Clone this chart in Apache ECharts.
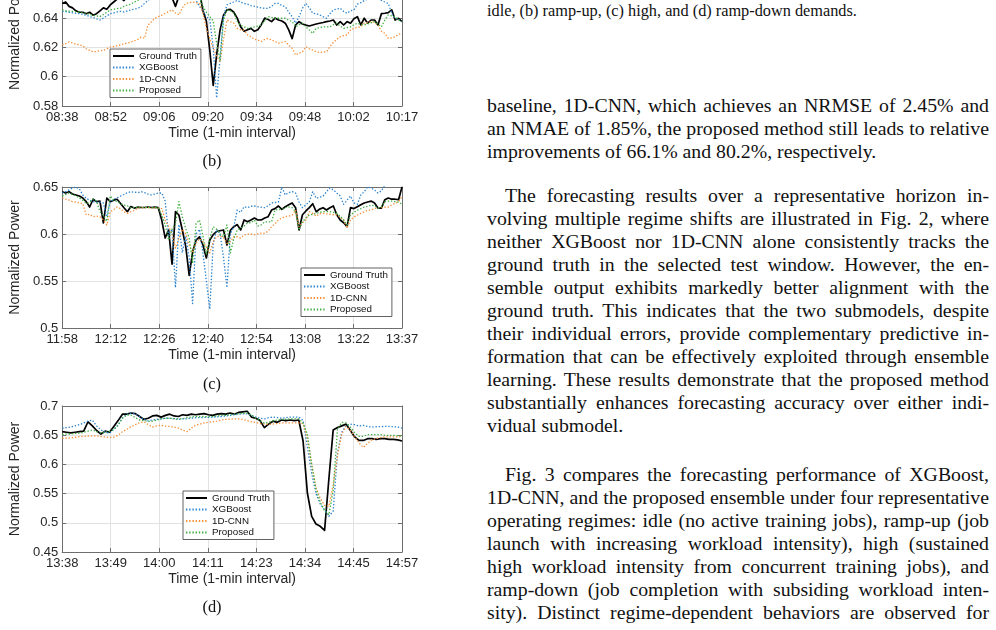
<!DOCTYPE html>
<html>
<head>
<meta charset="utf-8">
<title>Forecast regimes</title>
<script src="https://cdn.jsdelivr.net/npm/echarts@6/dist/echarts.min.js"></script>
<style>
    html, body { margin: 0; padding: 0; background: #fff; }
    body { width: 996px; height: 630px; position: relative; overflow: hidden; }
    /* chart starts above the page so the top panel is cut off like the scan */
    #chart { position: absolute; left: 0; top: -60px; width: 480px; height: 690px; }
    .sub {
        position: absolute; width: 40px; margin-left: -20px; text-align: center;
        font-family: "Liberation Serif", "Times New Roman", serif; font-size: 16.4px;
        line-height: 18px; color: #111;
    }
    .cap {
        position: absolute; left: 487px; top: 1px; white-space: nowrap;
        font-family: "Liberation Serif", "Times New Roman", serif; font-size: 16.3px; color: #111;
    }
    .para {
        position: absolute; left: 487px; width: 502px;
        font-family: "Liberation Serif", "Times New Roman", serif; font-size: 19.8px;
        line-height: 23.1px; color: #111;
    }
    .para div { text-align: justify; text-align-last: justify; word-spacing: -2px; }
    .para div.ind { text-indent: 18px; }
    .para div.last { text-align: left; text-align-last: left; word-spacing: 0; }
</style>
</head>
<body>
<div id="chart"></div>

<div class="sub" style="left:212px; top:152px;">(b)</div>
<div class="sub" style="left:212px; top:375px;">(c)</div>
<div class="sub" style="left:212px; top:598px;">(d)</div>

<div class="cap">idle, (b) ramp-up, (c) high, and (d) ramp-down demands.</div>

<div class="para" style="top:93.5px;">
    <div>baseline, 1D-CNN, which achieves an NRMSE of 2.45% and</div>
    <div>an NMAE of 1.85%, the proposed method still leads to relative</div>
    <div class="last">improvements of 66.1% and 80.2%, respectively.</div>
</div>

<div class="para" style="top:183.5px;">
    <div class="ind">The forecasting results over a representative horizon in-</div>
    <div>volving multiple regime shifts are illustrated in Fig. 2, where</div>
    <div>neither XGBoost nor 1D-CNN alone consistently tracks the</div>
    <div>ground truth in the selected test window. However, the en-</div>
    <div>semble output exhibits markedly better alignment with the</div>
    <div>ground truth. This indicates that the two submodels, despite</div>
    <div>their individual errors, provide complementary predictive in-</div>
    <div>formation that can be effectively exploited through ensemble</div>
    <div>learning. These results demonstrate that the proposed method</div>
    <div>substantially enhances forecasting accuracy over either indi-</div>
    <div class="last">vidual submodel.</div>
</div>

<div class="para" style="top:462.5px;">
    <div class="ind">Fig. 3 compares the forecasting performance of XGBoost,</div>
    <div>1D-CNN, and the proposed ensemble under four representative</div>
    <div>operating regimes: idle (no active training jobs), ramp-up (job</div>
    <div>launch with increasing workload intensity), high (sustained</div>
    <div>high workload intensity from concurrent training jobs), and</div>
    <div>ramp-down (job completion with subsiding workload inten-</div>
    <div>sity). Distinct regime-dependent behaviors are observed for</div>
</div>

<script>
// tick labels (MATLAB datetime ticks, 8 evenly spaced per panel)
const ticksB = ['08:38', '08:52', '09:06', '09:20', '09:34', '09:48', '10:02', '10:17'];
const ticksC = ['11:58', '12:12', '12:26', '12:40', '12:54', '13:08', '13:22', '13:37'];
const ticksD = ['13:38', '13:49', '14:00', '14:11', '14:23', '14:34', '14:45', '14:57'];

const seriesNames = ['Ground Truth', 'XGBoost', '1D-CNN', 'Proposed'];

// (b) ramp-up, 100 one-minute samples
const truthB = [
    0.650, 0.651, 0.648, 0.647, 0.645, 0.644, 0.644, 0.643, 0.644, 0.642,
    0.643, 0.645, 0.647, 0.646, 0.649, 0.651, 0.653, 0.654, 0.652, 0.655,
    0.657, 0.656, 0.658, 0.660, 0.658, 0.661, 0.659, 0.662, 0.660, 0.658,
    0.656, 0.657, 0.654, 0.648, 0.655, 0.658, 0.660, 0.662, 0.660, 0.663,
    0.658, 0.645, 0.638, 0.618, 0.594, 0.615, 0.632, 0.642, 0.6456, 0.646,
    0.644, 0.640, 0.634, 0.631, 0.632, 0.633, 0.631, 0.632, 0.6355, 0.640,
    0.639, 0.6376, 0.640, 0.6387, 0.638, 0.6365, 0.632, 0.626, 0.6353, 0.6376,
    0.636, 0.6352, 0.6346, 0.6353, 0.636, 0.6365, 0.637, 0.6376, 0.638, 0.6387,
    0.6353, 0.6376, 0.6353, 0.6376, 0.6365, 0.6395, 0.641, 0.6353, 0.6399, 0.6365,
    0.6387, 0.6387, 0.6353, 0.643, 0.6433, 0.6437, 0.6456, 0.6387, 0.6399, 0.6376
];
const xgbB = [
    0.6446, 0.6445, 0.644, 0.6436, 0.6433, 0.643, 0.6425, 0.642, 0.641, 0.6405,
    0.6395, 0.6387, 0.640, 0.6415, 0.643, 0.6435, 0.6442, 0.6446, 0.6442, 0.645,
    0.6455, 0.6462, 0.6467, 0.6478, 0.6501, 0.652, 0.654, 0.656, 0.655, 0.657,
    0.659, 0.658, 0.660, 0.658, 0.660, 0.662, 0.660, 0.658, 0.655, 0.652,
    0.648, 0.645, 0.641, 0.639, 0.620, 0.5855, 0.613, 0.641, 0.649, 0.650,
    0.651, 0.652, 0.651, 0.650, 0.6495, 0.6485, 0.648, 0.6475, 0.647, 0.6467,
    0.6467, 0.648, 0.650, 0.6501, 0.6485, 0.6478, 0.644, 0.641, 0.6365, 0.641,
    0.6467, 0.6501, 0.647, 0.6433, 0.643, 0.6422, 0.641, 0.6399, 0.643, 0.6456,
    0.6462, 0.6467, 0.6445, 0.6433, 0.645, 0.6456, 0.6495, 0.6505, 0.652, 0.653,
    0.653, 0.654, 0.653, 0.652, 0.651, 0.650, 0.6433, 0.6399, 0.639, 0.6376
];
const cnnB = [
    0.6217, 0.6225, 0.6237, 0.623, 0.6222, 0.6217, 0.621, 0.619, 0.618, 0.617,
    0.6172, 0.6178, 0.618, 0.619, 0.6203, 0.6205, 0.6212, 0.6217, 0.6225, 0.623,
    0.6237, 0.6245, 0.6255, 0.627, 0.6262, 0.6353, 0.6375, 0.6399, 0.641, 0.642,
    0.6433, 0.6445, 0.6456, 0.6435, 0.6422, 0.647, 0.650, 0.6505, 0.651, 0.6505,
    0.650, 0.6433, 0.633, 0.626, 0.6196, 0.614, 0.610, 0.6254, 0.6387, 0.6375,
    0.6365, 0.633, 0.632, 0.6318, 0.6285, 0.6273, 0.6255, 0.625, 0.624, 0.6255,
    0.6262, 0.625, 0.624, 0.6228, 0.6235, 0.624, 0.6215, 0.6194, 0.6148, 0.616,
    0.617, 0.6205, 0.619, 0.6182, 0.617, 0.6165, 0.6168, 0.617, 0.6205, 0.6235,
    0.6255, 0.6273, 0.628, 0.6285, 0.632, 0.633, 0.6338, 0.634, 0.6365, 0.637,
    0.6376, 0.637, 0.6353, 0.631, 0.6296, 0.6262, 0.6265, 0.6273, 0.629, 0.6296
];
const propB = [
    0.6456, 0.645, 0.6448, 0.6446, 0.6444, 0.644, 0.6436, 0.6433, 0.6425, 0.642,
    0.6415, 0.641, 0.6425, 0.644, 0.6456, 0.646, 0.6465, 0.6467, 0.648, 0.649,
    0.6495, 0.651, 0.652, 0.654, 0.655, 0.656, 0.657, 0.658, 0.656, 0.659,
    0.660, 0.658, 0.657, 0.655, 0.657, 0.659, 0.660, 0.661, 0.659, 0.657,
    0.654, 0.648, 0.644, 0.641, 0.638, 0.6228, 0.6114, 0.6387, 0.6456, 0.645,
    0.6433, 0.6376, 0.635, 0.634, 0.633, 0.6335, 0.634, 0.6345, 0.6353, 0.638,
    0.641, 0.6405, 0.6399, 0.6399, 0.6399, 0.6399, 0.6385, 0.6376, 0.634, 0.6355,
    0.6365, 0.634, 0.6318, 0.6296, 0.633, 0.6335, 0.634, 0.634, 0.634, 0.6355,
    0.6365, 0.6345, 0.633, 0.6335, 0.634, 0.6355, 0.6365, 0.6358, 0.6353, 0.636,
    0.6368, 0.6376, 0.6358, 0.634, 0.6387, 0.6422, 0.6415, 0.641, 0.6387, 0.6376
];

// (c) high, 100 samples
const truthC = [
    0.645, 0.6436, 0.645, 0.6425, 0.6415, 0.6404, 0.6383, 0.6344, 0.6287, 0.637,
    0.6344, 0.635, 0.6117, 0.6383, 0.6344, 0.636, 0.637, 0.6325, 0.628, 0.6237,
    0.6292, 0.6276, 0.6285, 0.6282, 0.6282, 0.6287, 0.6282, 0.6285, 0.628, 0.6149,
    0.5957, 0.6043, 0.568, 0.6237, 0.6202, 0.6043, 0.5865, 0.556, 0.581, 0.5936,
    0.597, 0.5883, 0.5745, 0.5936, 0.5993, 0.6027, 0.6035, 0.6043, 0.5883, 0.604,
    0.6078, 0.610, 0.6043, 0.6149, 0.613, 0.615, 0.617, 0.6149, 0.615, 0.617,
    0.6184, 0.6255, 0.627, 0.6298, 0.6262, 0.629, 0.631, 0.633, 0.628, 0.6043,
    0.6205, 0.6245, 0.628, 0.6322, 0.6237, 0.6265, 0.628, 0.6255, 0.628, 0.6298,
    0.6205, 0.6149, 0.612, 0.6078, 0.628, 0.627, 0.629, 0.631, 0.633, 0.634,
    0.635, 0.633, 0.6276, 0.6276, 0.6365, 0.6383, 0.637, 0.637, 0.6365, 0.650
];
const xgbC = [
    0.6436, 0.645, 0.647, 0.649, 0.650, 0.648, 0.6415, 0.638, 0.636, 0.6344,
    0.634, 0.634, 0.633, 0.6184, 0.6344, 0.637, 0.6385, 0.6404, 0.642, 0.644,
    0.645, 0.6445, 0.644, 0.645, 0.644, 0.6425, 0.6415, 0.6425, 0.6436, 0.6436,
    0.635, 0.598, 0.605, 0.543, 0.610, 0.580, 0.598, 0.575, 0.526, 0.600,
    0.605, 0.580, 0.550, 0.520, 0.590, 0.605, 0.600, 0.575, 0.543, 0.600,
    0.608, 0.6255, 0.623, 0.629, 0.628, 0.6295, 0.6298, 0.629, 0.6285, 0.628,
    0.630, 0.633, 0.6335, 0.634, 0.650, 0.6415, 0.644, 0.645, 0.6436, 0.634,
    0.628, 0.631, 0.6344, 0.645, 0.638, 0.639, 0.6404, 0.645, 0.649, 0.647,
    0.6436, 0.6404, 0.6316, 0.636, 0.6404, 0.633, 0.6316, 0.6415, 0.645, 0.650,
    0.649, 0.6468, 0.6436, 0.646, 0.652, 0.6539, 0.654, 0.654, 0.653, 0.652
];
const cnnC = [
    0.6383, 0.637, 0.636, 0.6344, 0.634, 0.633, 0.6325, 0.6202, 0.621, 0.6184,
    0.619, 0.6184, 0.615, 0.6096, 0.6237, 0.626, 0.6287, 0.627, 0.6237, 0.622,
    0.6237, 0.625, 0.6276, 0.628, 0.628, 0.628, 0.6276, 0.628, 0.6276, 0.627,
    0.6149, 0.6078, 0.600, 0.585, 0.595, 0.605, 0.600, 0.588, 0.580, 0.590,
    0.595, 0.592, 0.586, 0.580, 0.592, 0.597, 0.598, 0.596, 0.590, 0.592,
    0.5971, 0.5971, 0.5957, 0.599, 0.5995, 0.600, 0.599, 0.600, 0.601, 0.6007,
    0.603, 0.6078, 0.611, 0.6149, 0.617, 0.6184, 0.619, 0.6202, 0.6255, 0.6078,
    0.612, 0.6149, 0.6237, 0.622, 0.619, 0.6215, 0.622, 0.6215, 0.621, 0.6205,
    0.6202, 0.618, 0.6149, 0.6064, 0.6149, 0.618, 0.6202, 0.622, 0.6237, 0.625,
    0.6255, 0.627, 0.628, 0.628, 0.6285, 0.6287, 0.631, 0.6325, 0.6344, 0.640
];
const propC = [
    0.6404, 0.642, 0.6436, 0.642, 0.6404, 0.6383, 0.636, 0.6325, 0.6335, 0.637,
    0.635, 0.6237, 0.620, 0.6134, 0.6404, 0.636, 0.6344, 0.6325, 0.6308, 0.630,
    0.6276, 0.628, 0.6285, 0.6285, 0.6282, 0.6282, 0.628, 0.6282, 0.6282, 0.6202,
    0.610, 0.5936, 0.605, 0.611, 0.6344, 0.6184, 0.6057, 0.5957, 0.569, 0.611,
    0.6149, 0.598, 0.578, 0.595, 0.6078, 0.605, 0.600, 0.597, 0.6096, 0.580,
    0.595, 0.6043, 0.606, 0.6085, 0.6117, 0.612, 0.6149, 0.6085, 0.6096, 0.613,
    0.6128, 0.613, 0.6255, 0.626, 0.6262, 0.628, 0.6287, 0.628, 0.6237, 0.6043,
    0.613, 0.617, 0.6202, 0.621, 0.622, 0.623, 0.6237, 0.6237, 0.6237, 0.623,
    0.622, 0.619, 0.6149, 0.6096, 0.6202, 0.623, 0.6255, 0.627, 0.6287, 0.6295,
    0.6308, 0.630, 0.6276, 0.629, 0.6344, 0.635, 0.635, 0.6344, 0.634, 0.6316
];

// (d) ramp-down, 80 samples
const truthD = [
    0.656, 0.655, 0.654, 0.655, 0.656, 0.657, 0.673, 0.666, 0.658, 0.652,
    0.657, 0.655, 0.665, 0.675, 0.686, 0.686, 0.688, 0.687, 0.682, 0.677,
    0.679, 0.683, 0.684, 0.681, 0.684, 0.686, 0.683, 0.682, 0.685, 0.684,
    0.686, 0.685, 0.686, 0.687, 0.685, 0.684, 0.686, 0.687, 0.686, 0.688,
    0.686, 0.689, 0.690, 0.691, 0.681, 0.679, 0.675, 0.663, 0.669, 0.674,
    0.672, 0.676, 0.675, 0.676, 0.675, 0.676, 0.640, 0.551, 0.511, 0.498,
    0.494, 0.487, 0.575, 0.659, 0.663, 0.666, 0.669, 0.658, 0.647, 0.641,
    0.641, 0.644, 0.644, 0.643, 0.644, 0.644, 0.643, 0.643, 0.642, 0.640
];
const xgbD = [
    0.662, 0.663, 0.664, 0.666, 0.668, 0.671, 0.674, 0.676, 0.666, 0.659,
    0.655, 0.6533, 0.660, 0.6674, 0.680, 0.686, 0.688, 0.686, 0.682, 0.677,
    0.6745, 0.676, 0.677, 0.678, 0.679, 0.679, 0.678, 0.677, 0.678, 0.678,
    0.679, 0.680, 0.680, 0.6805, 0.6805, 0.681, 0.6815, 0.682, 0.683, 0.684,
    0.685, 0.686, 0.6865, 0.6865, 0.684, 0.681, 0.679, 0.678, 0.680, 0.681,
    0.680, 0.679, 0.680, 0.681, 0.681, 0.681, 0.6755, 0.630, 0.585, 0.550,
    0.532, 0.522, 0.511, 0.520, 0.620, 0.655, 0.667, 0.669, 0.668, 0.6655,
    0.667, 0.665, 0.6638, 0.6645, 0.6647, 0.665, 0.665, 0.6645, 0.664, 0.662
];
const cnnD = [
    0.6447, 0.645, 0.6455, 0.6465, 0.6475, 0.648, 0.6485, 0.649, 0.649, 0.6475,
    0.647, 0.6462, 0.6465, 0.650, 0.656, 0.660, 0.6645, 0.668, 0.6715, 0.673,
    0.668, 0.664, 0.666, 0.667, 0.6655, 0.665, 0.664, 0.662, 0.659, 0.656,
    0.662, 0.667, 0.669, 0.671, 0.672, 0.673, 0.674, 0.676, 0.677, 0.6775,
    0.678, 0.678, 0.677, 0.675, 0.673, 0.672, 0.670, 0.669, 0.6685, 0.669,
    0.670, 0.671, 0.671, 0.671, 0.671, 0.671, 0.670, 0.645, 0.600, 0.560,
    0.542, 0.530, 0.528, 0.565, 0.615, 0.652, 0.665, 0.658, 0.647, 0.637,
    0.629, 0.636, 0.642, 0.6445, 0.646, 0.647, 0.647, 0.647, 0.647, 0.647
];
const propD = [
    0.651, 0.652, 0.652, 0.653, 0.6534, 0.655, 0.657, 0.659, 0.656, 0.6534,
    0.655, 0.6563, 0.660, 0.667, 0.679, 0.6845, 0.6845, 0.680, 0.676, 0.675,
    0.6735, 0.674, 0.676, 0.678, 0.679, 0.679, 0.6785, 0.678, 0.678, 0.680,
    0.681, 0.682, 0.682, 0.682, 0.6815, 0.682, 0.683, 0.684, 0.684, 0.685,
    0.686, 0.687, 0.6875, 0.688, 0.685, 0.679, 0.675, 0.6705, 0.672, 0.6745,
    0.676, 0.677, 0.677, 0.678, 0.678, 0.678, 0.6705, 0.652, 0.600, 0.558,
    0.535, 0.521, 0.5135, 0.555, 0.660, 0.672, 0.671, 0.664, 0.654, 0.648,
    0.648, 0.651, 0.651, 0.651, 0.651, 0.650, 0.6497, 0.6497, 0.649, 0.649
];

const FONT = '"Liberation Sans", Arial, sans-serif';
const AXIS_COLOR = '#6e6e6e';
const GRID_COLOR = '#e2e2e2';
const LABEL_COLOR = '#262626';

const lineColors = ['#000000', '#2a84cf', '#f5913a', '#3fae3f'];
const lineStyles = [
    { width: 1.7, type: 'solid' },
    { width: 1.3, type: [1.4, 1.8] },
    { width: 1.3, type: [1.4, 1.8] },
    { width: 1.3, type: [1.4, 1.8] },
];

// page y offset of the chart div is -60, so grid tops below are page y + 60
const panels = [
    { ticks: ticksB, values: [truthB, xgbB, cnnB, propB], yMin: 0.58, yMax: 0.68, yStep: 0.02,
      grid: { top: 19.5, height: 146.5 }, legendPos: { left: 110, top: 109 } },
    { ticks: ticksC, values: [truthC, xgbC, cnnC, propC], yMin: 0.5, yMax: 0.65, yStep: 0.05,
      grid: { top: 247, height: 141 }, legendPos: { left: 301, top: 328 } },
    { ticks: ticksD, values: [truthD, xgbD, cnnD, propD], yMin: 0.45, yMax: 0.7, yStep: 0.05,
      grid: { top: 466, height: 146 }, legendPos: { left: 183, top: 551 } },
];

const grids = [], xAxes = [], yAxes = [], series = [], legends = [];

panels.forEach((p, k) => {
    const n = p.values[0].length;
    const step = (n - 1) / (p.ticks.length - 1);
    const tickPos = p.ticks.map((_, j) => j * step);

    grids.push({ left: 50, width: 352, top: p.grid.top, height: p.grid.height });

    xAxes.push({
        type: 'value', gridIndex: k, position: 'bottom', min: 0, max: n - 1,
        axisLine: { show: true, onZero: false, lineStyle: { color: AXIS_COLOR, width: 1 } },
        axisTick: { show: true, inside: true, length: 4, customValues: tickPos,
                    lineStyle: { color: AXIS_COLOR } },
        axisLabel: { customValues: tickPos, margin: 5, color: LABEL_COLOR, fontSize: 13,
                     fontFamily: FONT, formatter: v => p.ticks[Math.round(v / step)] },
        splitLine: { show: true, lineStyle: { color: GRID_COLOR, width: 1 } },
        name: 'Time (1-min interval)', nameLocation: 'middle', nameGap: 20,
        nameTextStyle: { color: LABEL_COLOR, fontSize: 14, fontFamily: FONT },
    });
    xAxes.push({
        type: 'value', gridIndex: k, position: 'top', min: 0, max: n - 1,
        axisLine: { show: true, onZero: false, lineStyle: { color: AXIS_COLOR, width: 1 } },
        axisTick: { show: true, inside: true, length: 4, customValues: tickPos,
                    lineStyle: { color: AXIS_COLOR } },
        axisLabel: { show: false },
        splitLine: { show: false },
    });

    yAxes.push({
        type: 'value', gridIndex: k, position: 'left', min: p.yMin, max: p.yMax, interval: p.yStep,
        axisLine: { show: true, onZero: false, lineStyle: { color: AXIS_COLOR, width: 1 } },
        axisTick: { show: true, inside: true, length: 4, lineStyle: { color: AXIS_COLOR } },
        axisLabel: { margin: 4, color: LABEL_COLOR, fontSize: 13, fontFamily: FONT },
        splitLine: { show: true, lineStyle: { color: GRID_COLOR, width: 1 } },
        name: 'Normalized Power', nameLocation: 'middle', nameGap: 30,
        nameTextStyle: { color: LABEL_COLOR, fontSize: 14, fontFamily: FONT },
    });
    yAxes.push({
        type: 'value', gridIndex: k, position: 'right', min: p.yMin, max: p.yMax, interval: p.yStep,
        axisLine: { show: true, onZero: false, lineStyle: { color: AXIS_COLOR, width: 1 } },
        axisTick: { show: true, inside: true, length: 4, lineStyle: { color: AXIS_COLOR } },
        axisLabel: { show: false },
        splitLine: { show: false },
    });

    p.values.forEach((arr, s) => {
        series.push({
            type: 'line',
            name: seriesNames[s],
            xAxisIndex: 2 * k,
            yAxisIndex: 2 * k,
            data: arr.map((v, i) => [i, v]),
            symbol: 'none',
            showSymbol: false,
            silent: true,
            clip: true,
            color: lineColors[s],
            itemStyle: { color: lineColors[s] },
            lineStyle: Object.assign({ color: lineColors[s], cap: 'butt', join: 'round' }, lineStyles[s]),
            z: 2 + s,
        });
    });

    legends.push({
        data: seriesNames,
        left: p.legendPos.left,
        top: p.legendPos.top,
        orient: 'vertical',
        selectedMode: false,
        itemWidth: 21,
        itemHeight: 9,
        itemGap: 1.5,
        padding: [2, 4, 2, 2],
        backgroundColor: '#ffffff',
        borderColor: '#3a3a3a',
        borderWidth: 0.8,
        borderRadius: 0,
        itemStyle: { opacity: 0 },
        textStyle: { color: '#111', fontSize: 9.8, fontFamily: FONT, lineHeight: 10 },
        z: 10,
    });
});

const chart = echarts.init(document.getElementById('chart'), null, { renderer: 'canvas' });
chart.setOption({
    animation: false,
    backgroundColor: '#ffffff',
    grid: grids,
    xAxis: xAxes,
    yAxis: yAxes,
    legend: legends,
    series: series,
});
</script>
</body>
</html>
